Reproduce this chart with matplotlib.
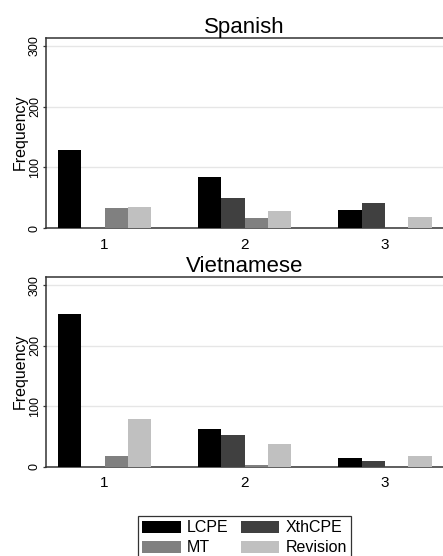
import matplotlib.pyplot as plt
import numpy as np

plt.rcParams['font.family'] = ['Liberation Sans', 'DejaVu Sans']

# values
categories = [1, 2, 3]
series = ["LCPE", "XthCPE", "MT", "Revision"]
colors = ["#000000", "#404040", "#808080", "#c0c0c0"]

spanish = {
    "LCPE": [128, 84, 30],
    "XthCPE": [0, 49, 41],
    "MT": [33, 16, 0],
    "Revision": [35, 28, 18],
}
vietnamese = {
    "LCPE": [253, 63, 14],
    "XthCPE": [0, 52, 10],
    "MT": [18, 3, 0],
    "Revision": [79, 37, 18],
}
panels = [("Spanish", spanish), ("Vietnamese", vietnamese)]

W, H = 443, 556
fig = plt.figure(figsize=(W / 100, H / 100), dpi=100)

# axes boxes in pixels: (left, top, right, bottom)
boxes = [(45.5, 37.5, 443, 228), (45.5, 276.7, 443, 466.7)]

bar_w = 1 / 6
offsets = (np.arange(4) - 1.5) * bar_w
x = np.array(categories)

handles = {}
for (title, data), (l, t, r, b) in zip(panels, boxes):
    ax = fig.add_axes([l / W, 1 - b / H, (r - l) / W, (b - t) / H])
    for i, name in enumerate(series):
        h = ax.bar(x + offsets[i], data[name], width=bar_w, color=colors[i],
                   linewidth=0, label=name, zorder=3)
        handles.setdefault(name, h)
    ax.set_xlim(0.579, 3.414)
    ax.set_ylim(0, 314)
    ax.set_yticks([0, 100, 200, 300])
    ax.set_xticks(categories)
    ax.yaxis.grid(True, color="#e6e6e6", linewidth=1, zorder=0)
    ax.tick_params(axis="y", length=2.5, width=0.9, color="#333333", pad=0.8,
                   labelsize=9, labelrotation=90)
    for lab in ax.get_yticklabels():
        lab.set_va("center")
    ax.tick_params(axis="x", length=0, pad=7, labelsize=11)
    for s in ["left", "top", "bottom"]:
        ax.spines[s].set_color("#333333")
        ax.spines[s].set_linewidth(1.1)
    ax.spines["right"].set_visible(False)
    ax.set_ylabel("Frequency", fontsize=11.5)
    ax.yaxis.set_label_coords((28 - l) / (r - l), 0.5)
    ax.set_title(title, fontsize=16, pad=3)

# legend fills column-wise, so order gives rows LCPE/XthCPE and MT/Revision
order = ["LCPE", "MT", "XthCPE", "Revision"]
leg = fig.legend([handles[n] for n in order], order, ncol=2, loc="upper center",
                 bbox_to_anchor=(244.5 / W, 1 - 515.7 / H), fontsize=11.5,
                 frameon=True, fancybox=False, edgecolor="black",
                 handlelength=2.4, handleheight=0.75, handletextpad=0.37,
                 columnspacing=0.8, labelspacing=0.3, borderpad=0.3,
                 borderaxespad=0)
leg.get_frame().set_linewidth(0.9)

fig.savefig("out.png", dpi=100)
